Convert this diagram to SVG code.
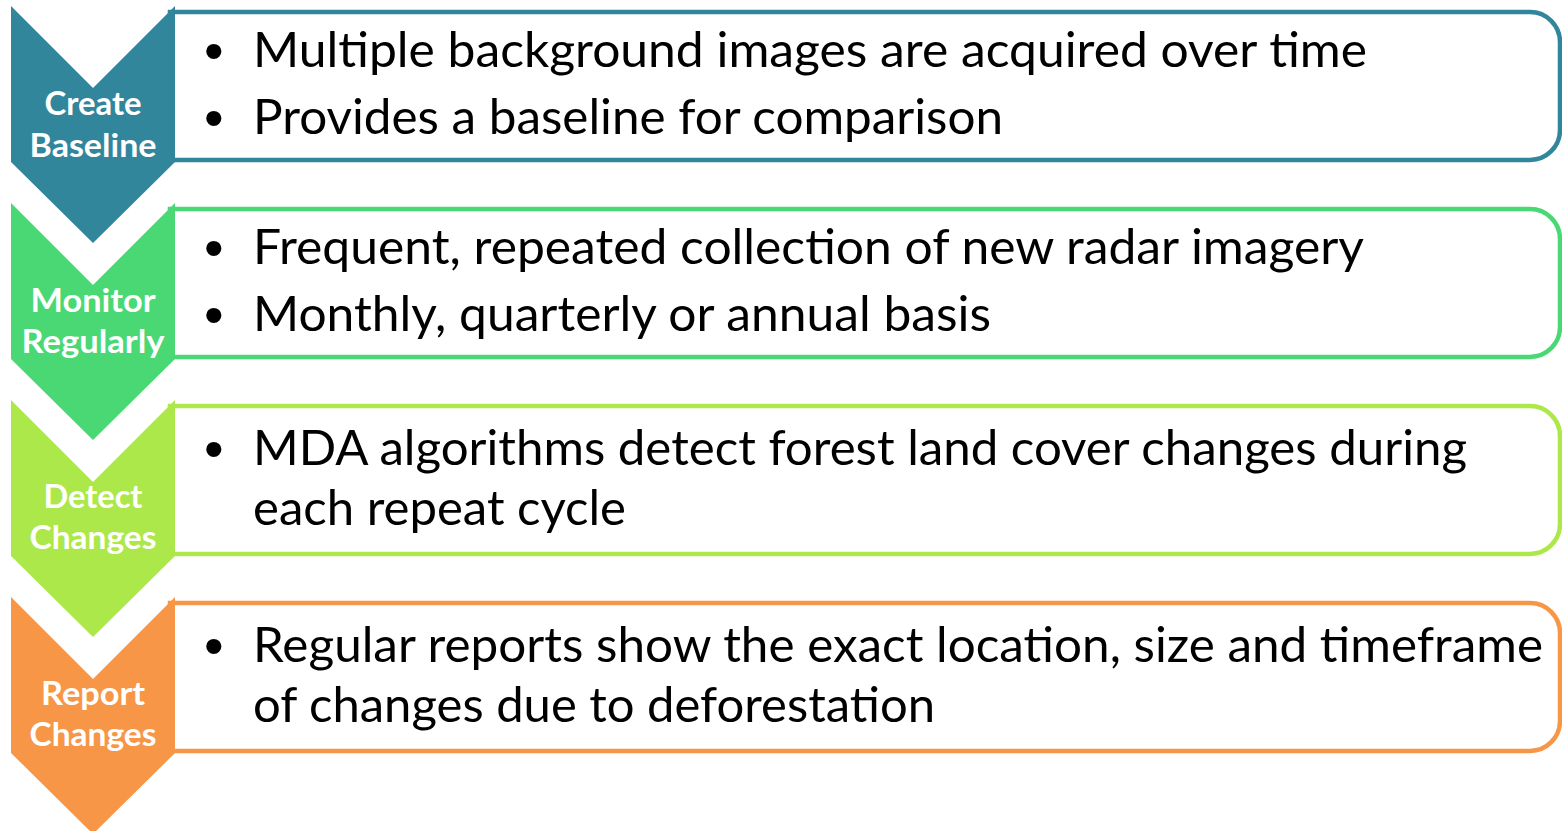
<svg xmlns="http://www.w3.org/2000/svg" width="1562" height="831" viewBox="0 0 1562 831">
<style>
.box{fill:#ffffff;stroke-width:4.5}
.lbl{font-family:Lato,"Open Sans","Liberation Sans",sans-serif;font-weight:bold;font-size:33px;fill:#ffffff;text-anchor:middle}
.txt{font-family:Lato,"Open Sans","Liberation Sans",sans-serif;font-size:48px;fill:#000000}
.bul{font-family:"Liberation Sans",Arial,sans-serif;font-size:56px;fill:#000000}
</style>
<g id="connectors"></g>
<g id="step1">
<path class="box" stroke="#31869C" d="M170 12 H1530 A30 30 0 0 1 1560 42 V130 A30 30 0 0 1 1530 160 H170 Z"/>
<polygon fill="#31869C" points="11,6 93,88 175,6 175,162 93,243 11,162"/>
<text class="lbl" x="93" y="115" textLength="97" lengthAdjust="spacingAndGlyphs">Create</text>
<text class="lbl" x="93" y="157" textLength="127" lengthAdjust="spacingAndGlyphs">Baseline</text>
<text class="bul" x="204" y="70">•</text>
<text class="txt" x="253" y="67" textLength="1114" lengthAdjust="spacingAndGlyphs">Multiple background images are acquired over time</text>
<text class="bul" x="204" y="137">•</text>
<text class="txt" x="253" y="134" textLength="750" lengthAdjust="spacingAndGlyphs">Provides a baseline for comparison</text>
</g>
<g id="step2">
<path class="box" stroke="#4AD874" d="M170 209 H1530 A30 30 0 0 1 1560 239 V327 A30 30 0 0 1 1530 357 H170 Z"/>
<polygon fill="#4AD874" points="11,203 93,285 175,203 175,359 93,440 11,359"/>
<text class="lbl" x="93" y="312" textLength="125" lengthAdjust="spacingAndGlyphs">Monitor</text>
<text class="lbl" x="93" y="353" textLength="143" lengthAdjust="spacingAndGlyphs">Regularly</text>
<text class="bul" x="204" y="267">•</text>
<text class="txt" x="253" y="264" textLength="1111" lengthAdjust="spacingAndGlyphs">Frequent, repeated collection of new radar imagery</text>
<text class="bul" x="204" y="334">•</text>
<text class="txt" x="253" y="331" textLength="738" lengthAdjust="spacingAndGlyphs">Monthly, quarterly or annual basis</text>
</g>
<g id="step3">
<path class="box" stroke="#ADE84A" d="M170 406 H1530 A30 30 0 0 1 1560 436 V524 A30 30 0 0 1 1530 554 H170 Z"/>
<polygon fill="#ADE84A" points="11,400 93,482 175,400 175,556 93,637 11,556"/>
<text class="lbl" x="93" y="508" textLength="99" lengthAdjust="spacingAndGlyphs">Detect</text>
<text class="lbl" x="93" y="549" textLength="127" lengthAdjust="spacingAndGlyphs">Changes</text>
<text class="bul" x="204" y="468">•</text>
<text class="txt" x="253" y="465" textLength="1214" lengthAdjust="spacingAndGlyphs">MDA algorithms detect forest land cover changes during</text>
<text class="txt" x="253" y="525" textLength="373" lengthAdjust="spacingAndGlyphs">each repeat cycle</text>
</g>
<g id="step4">
<path class="box" stroke="#F79646" d="M170 603 H1530 A30 30 0 0 1 1560 633 V721 A30 30 0 0 1 1530 751 H170 Z"/>
<polygon fill="#F79646" points="11,597 93,679 175,597 175,753 93,834 11,753"/>
<text class="lbl" x="93" y="705" textLength="104" lengthAdjust="spacingAndGlyphs">Report</text>
<text class="lbl" x="93" y="746" textLength="127" lengthAdjust="spacingAndGlyphs">Changes</text>
<text class="bul" x="204" y="665">•</text>
<text class="txt" x="253" y="662" textLength="1290" lengthAdjust="spacingAndGlyphs">Regular reports show the exact location, size and timeframe</text>
<text class="txt" x="253" y="722" textLength="682" lengthAdjust="spacingAndGlyphs">of changes due to deforestation</text>
</g>
</svg>
